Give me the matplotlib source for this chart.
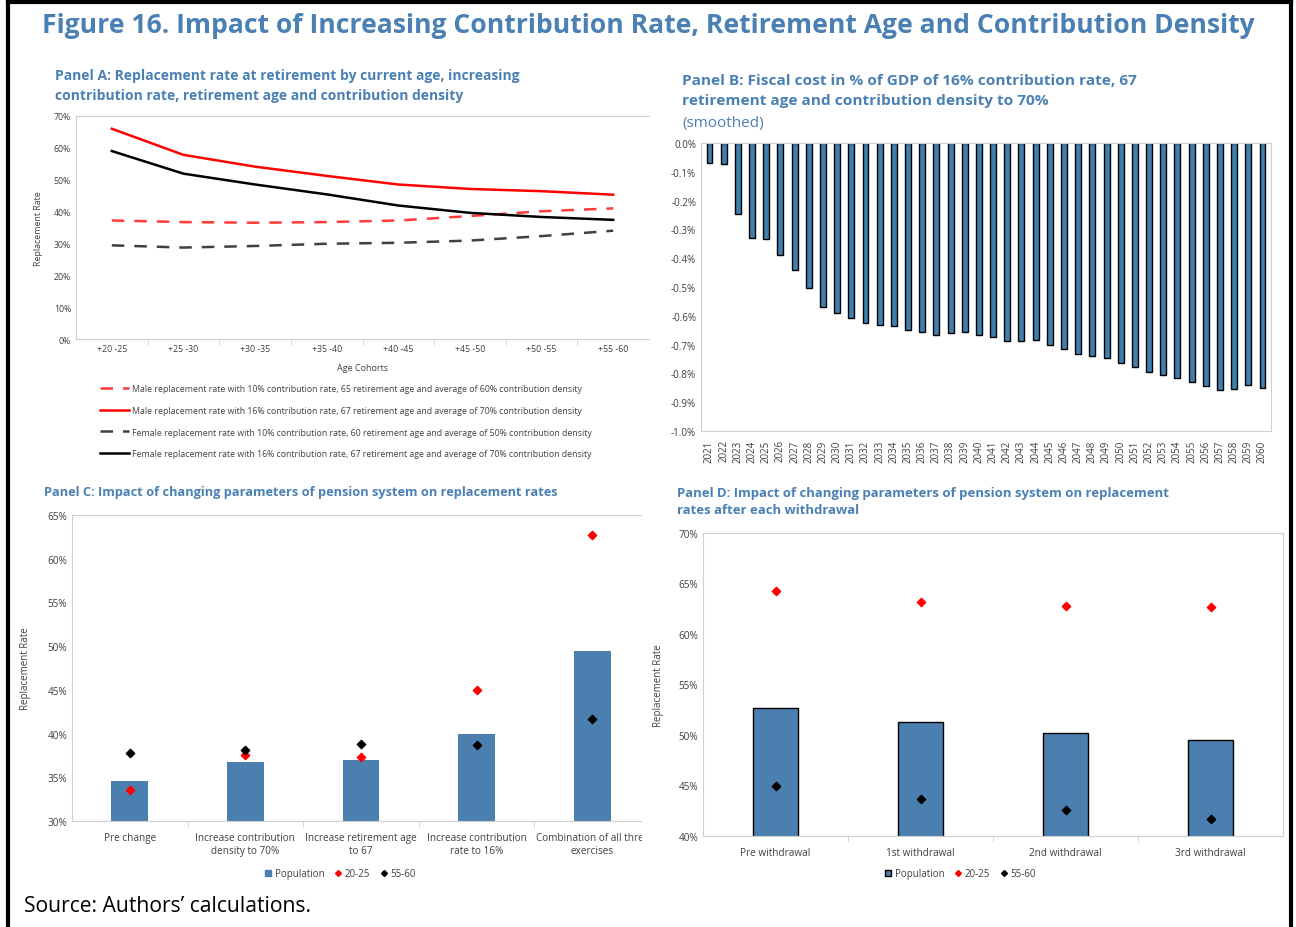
import matplotlib
matplotlib.use('Agg')
import matplotlib.pyplot as plt
from matplotlib.lines import Line2D
from matplotlib.transforms import Bbox, TransformedBbox

plt.rcParams['font.family'] = ['Open Sans', 'DejaVu Sans']
plt.rcParams['axes.unicode_minus'] = False

# Panel A: replacement rate by age cohort
cohorts = ['+20 -25', '+25 -30', '+30 -35', '+35 -40', '+40 -45', '+45 -50', '+50 -55', '+55 -60']
male_base = [37.2, 36.7, 36.5, 36.7, 37.2, 38.6, 40.1, 41.0]
male_reform = [66.0, 57.8, 54.1, 51.2, 48.5, 47.1, 46.4, 45.3]
female_base = [29.4, 28.7, 29.2, 29.9, 30.2, 30.9, 32.3, 34.0]
female_reform = [59.0, 51.9, 48.5, 45.4, 41.9, 39.6, 38.3, 37.4]

# Panel B: fiscal cost, % of GDP
years = list(range(2021, 2061))
fiscal_cost = [-0.070, -0.072, -0.247, -0.330, -0.333, -0.388, -0.440, -0.505, -0.568, -0.589,
               -0.609, -0.626, -0.633, -0.636, -0.648, -0.656, -0.666, -0.661, -0.655, -0.666,
               -0.675, -0.688, -0.688, -0.685, -0.703, -0.717, -0.732, -0.740, -0.748, -0.764,
               -0.779, -0.796, -0.805, -0.815, -0.830, -0.845, -0.859, -0.853, -0.842, -0.851]

# Panel C: parameter changes
scenarios = ['Pre change', 'Increase contribution\ndensity to 70%', 'Increase retirement age\nto 67',
             'Increase contribution\nrate to 16%', 'Combination of all three\nexercises']
pop_c = [34.6, 36.7, 37.0, 40.0, 49.4]
young_c = [33.6, 37.6, 37.3, 45.0, 62.7]
old_c = [37.8, 38.1, 38.8, 38.7, 41.7]

# Panel D: withdrawals
withdrawals = ['Pre withdrawal', '1st withdrawal', '2nd withdrawal', '3rd withdrawal']
pop_d = [52.7, 51.3, 50.2, 49.5]
young_d = [64.3, 63.2, 62.8, 62.7]
old_d = [45.0, 43.7, 42.6, 41.7]

W, H = 1296, 928
blue = '#4a7fb0'
title_col = '#4a80b4'
tick_col = '#404040'
frame_col = '#d0d0d0'


def box(l, t, r, b):
    return [l / W, 1 - b / H, (r - l) / W, (b - t) / H]


def style(ax, size):
    for s in ax.spines.values():
        s.set_color(frame_col)
        s.set_linewidth(0.8)
    ax.tick_params(axis='both', colors=tick_col, labelsize=size, length=0)
    ax.tick_params(axis='x', which='minor', length=4, color=frame_col)


fig = plt.figure(figsize=(W / 100, H / 100), dpi=100)

fig.text(42 / W, 1 - 26 / H, 'Figure 16. Impact of Increasing Contribution Rate, Retirement Age and Contribution Density',
         fontsize=19.1, fontweight='bold', color=title_col, va='center')

# ---- Panel A
ax = fig.add_axes(box(76, 117, 649, 340))
x = range(len(cohorts))
la1, = ax.plot(x, male_base, color='#ff3b3b', lw=1.8, dashes=(5, 4))
la2, = ax.plot(x, male_reform, color='#ff0000', lw=1.8)
la3, = ax.plot(x, female_base, color='#404040', lw=1.8, dashes=(5, 4))
la4, = ax.plot(x, female_reform, color='black', lw=1.8)
ax.set_xlim(-0.5, len(cohorts) - 0.5)
ax.set_ylim(0, 70)
ax.set_yticks(range(0, 71, 10))
ax.set_yticklabels([f'{v}%' for v in range(0, 71, 10)])
ax.set_xticks(list(x))
ax.set_xticklabels(cohorts)
ax.set_xticks([i + 0.5 for i in range(len(cohorts) - 1)], minor=True)
style(ax, 6.3)
ax.spines['right'].set_visible(False)
ax.set_xlabel('Age Cohorts', fontsize=6.5, color=tick_col, labelpad=7)
ax.set_ylabel('Replacement Rate', fontsize=6.3, color=tick_col, labelpad=8)
fig.text(55 / W, 1 - 86 / H, 'Panel A: Replacement rate at retirement by current age, increasing\n'
         'contribution rate, retirement age and contribution density',
         fontsize=10, fontweight='bold', color=title_col, va='center', linespacing=1.6)
fig.legend([la1, la2, la3, la4],
           ['Male replacement rate with 10% contribution rate, 65 retirement age and average of 60% contribution density',
            'Male replacement rate with 16% contribution rate, 67 retirement age and average of 70% contribution density',
            'Female replacement rate with 10% contribution rate, 60 retirement age and average of 50% contribution density',
            'Female replacement rate with 16% contribution rate, 67 retirement age and average of 70% contribution density'],
           loc='upper left', bbox_to_anchor=(92 / W, 1 - 377 / H), frameon=False, fontsize=6.35,
           handlelength=3.3, handletextpad=0.3, labelspacing=1.45, labelcolor=tick_col)

# ---- Panel B
ax = fig.add_axes(box(701, 144, 1271, 432))
ax.bar(range(len(years)), fiscal_cost, width=0.42, color='#3f7fae', edgecolor='black', linewidth=1)
ax.set_xlim(-0.6, len(years) - 0.4)
ax.set_ylim(-1.0, 0)
yt = [-1.0 + 0.1 * i for i in range(11)]
ax.set_yticks(yt)
ax.set_yticklabels([f'{v:.1f}%' for v in yt])
ax.set_xticks(range(len(years)))
ax.set_xticklabels([str(y) for y in years], rotation=90)
style(ax, 7)
ax.tick_params(axis='x', pad=6)
fig.text(682 / W, 1 - 91 / H, 'Panel B: Fiscal cost in % of GDP of 16% contribution rate, 67\n'
         'retirement age and contribution density to 70%',
         fontsize=11.1, fontweight='bold', color=title_col, va='center', linespacing=1.6)
fig.text(682 / W, 1 - 124 / H, '(smoothed)', fontsize=11, color=title_col, va='center')

# ---- Panel C
ax = fig.add_axes(box(72, 516, 650, 822))
xc = range(len(scenarios))
ax.bar(xc, pop_c, width=0.32, color=blue, bottom=0)
ax.scatter(xc, young_c, marker='D', s=18, color='#ff0000', zorder=3)
ax.scatter(xc, old_c, marker='D', s=18, color='black', zorder=3)
ax.set_xlim(-0.5, len(scenarios) - 0.5)
ax.set_ylim(30, 65)
ax.set_yticks(range(30, 66, 5))
ax.set_yticklabels([f'{v}%' for v in range(30, 66, 5)])
ax.set_xticks(list(xc))
ax.set_xticklabels(scenarios)
ax.set_xticks([i + 0.5 for i in range(len(scenarios) - 1)], minor=True)
style(ax, 7.2)
ax.tick_params(axis='x', pad=8)
ax.set_ylabel('Replacement Rate', fontsize=7, color=tick_col, labelpad=12)
clip = TransformedBbox(Bbox([[0, 0], [642 / W, 1]]), fig.transFigure)
ax.spines['right'].set_visible(False)
ax.spines['top'].set_clip_box(clip)
ax.spines['bottom'].set_clip_box(clip)
ax.spines['top'].set_clip_on(True)
ax.spines['bottom'].set_clip_on(True)
for t in ax.get_xticklabels():
    t.set_clip_box(clip)
    t.set_clip_on(True)
fig.text(44 / W, 1 - 493 / H, 'Panel C: Impact of changing parameters of pension system on replacement rates',
         fontsize=9.2, fontweight='bold', color=title_col, va='center')
hc = [Line2D([], [], ls='', marker='s', ms=5, color=blue),
      Line2D([], [], ls='', marker='D', ms=3, color='#ff0000'),
      Line2D([], [], ls='', marker='D', ms=3, color='black')]
ax.legend(hc, ['Population', '20-25', '55-60'], loc='center', bbox_to_anchor=(340 / W, 1 - 875 / H),
          bbox_transform=fig.transFigure, ncol=3, frameon=False, fontsize=7, handlelength=0.8,
          handletextpad=0.3, columnspacing=1.0, labelcolor=tick_col)

# ---- Panel D
ax = fig.add_axes(box(703, 534, 1283, 837))
xd = range(len(withdrawals))
ax.bar(xd, pop_d, width=0.31, color=blue, edgecolor='black', linewidth=1)
ax.scatter(xd, young_d, marker='D', s=18, color='#ff0000', zorder=3)
ax.scatter(xd, old_d, marker='D', s=18, color='black', zorder=3)
ax.set_xlim(-0.5, len(withdrawals) - 0.5)
ax.set_ylim(40, 70)
ax.set_yticks(range(40, 71, 5))
ax.set_yticklabels([f'{v}%' for v in range(40, 71, 5)])
ax.set_xticks(list(xd))
ax.set_xticklabels(withdrawals)
ax.set_xticks([i + 0.5 for i in range(len(withdrawals) - 1)], minor=True)
style(ax, 7.2)
ax.tick_params(axis='x', pad=8)
ax.set_ylabel('Replacement Rate', fontsize=7, color=tick_col, labelpad=10)
fig.text(677 / W, 1 - 502 / H, 'Panel D: Impact of changing parameters of pension system on replacement\n'
         'rates after each withdrawal',
         fontsize=9.45, fontweight='bold', color=title_col, va='center', linespacing=1.45)
hd = [Line2D([], [], ls='', marker='s', ms=5, color=blue, markeredgecolor='black'),
      Line2D([], [], ls='', marker='D', ms=3, color='#ff0000'),
      Line2D([], [], ls='', marker='D', ms=3, color='black')]
ax.legend(hd, ['Population', '20-25', '55-60'], loc='center', bbox_to_anchor=(960 / W, 1 - 875 / H),
          bbox_transform=fig.transFigure, ncol=3, frameon=False, fontsize=7, handlelength=0.8,
          handletextpad=0.3, columnspacing=1.0, labelcolor=tick_col)

fig.text(24 / W, 1 - 907 / H, 'Source: Authors\u2019 calculations.', fontsize=15.2, color='black', va='center')

# black frame round the figure (no bottom edge)
fig.add_artist(Line2D([8 / W, 8 / W], [0, 1 - 3 / H], color='black', lw=3, transform=fig.transFigure))
fig.add_artist(Line2D([8 / W, 1291 / W], [1 - 3 / H, 1 - 3 / H], color='black', lw=3, transform=fig.transFigure))
fig.add_artist(Line2D([1291 / W, 1291 / W], [0, 1 - 3 / H], color='black', lw=3, transform=fig.transFigure))

fig.savefig('out.png', dpi=100)
